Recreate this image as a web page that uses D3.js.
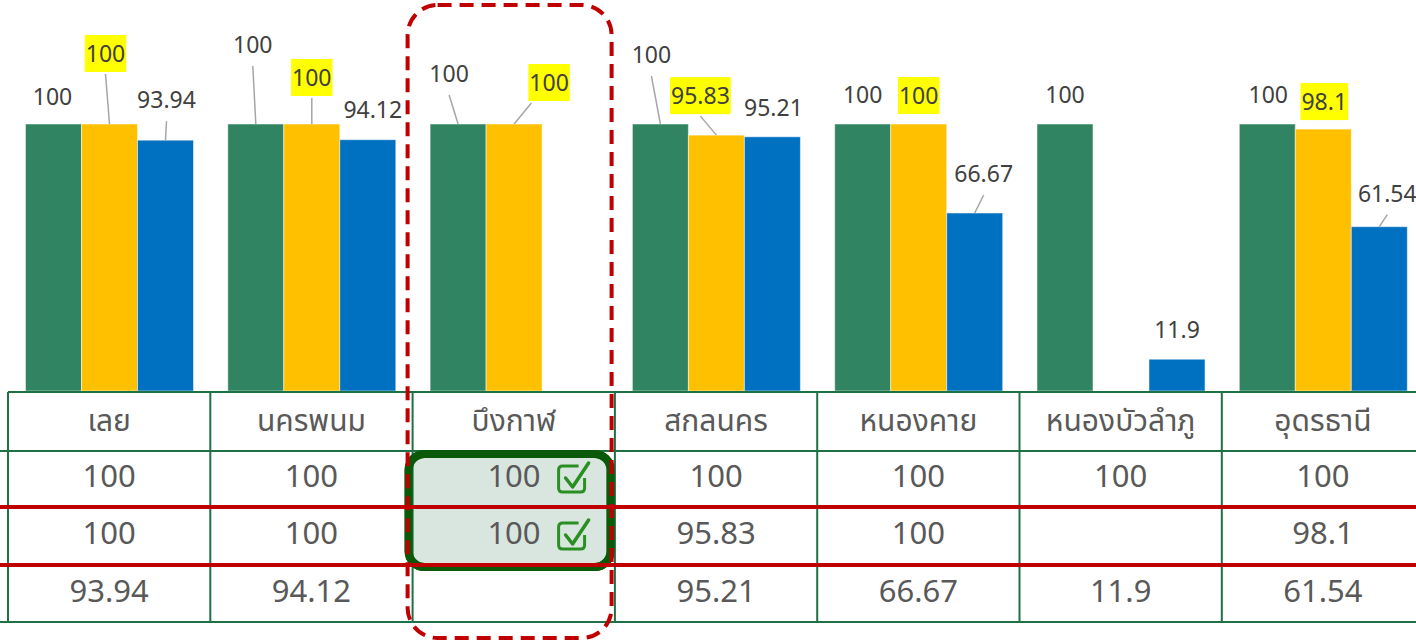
<!DOCTYPE html>
<html>
<head>
<meta charset="utf-8">
<script src="https://cdn.jsdelivr.net/npm/d3@7"></script>
<style>
  html, body { margin: 0; padding: 0; background: #fff; }
  svg { display: block; font-family: "Noto Sans Thai", "Noto Sans", sans-serif; }
</style>
</head>
<body>
<svg id="chart"></svg>
<script>
const categories = ["เลย", "นครพนม", "บึงกาฬ", "สกลนคร", "หนองคาย", "หนองบัวลำภู", "อุดรธานี"];
const seriesKeys = ["a", "b", "c"];
const valuesA = [100, 100, 100, 100, 100, 100, 100];
const valuesB = [100, 100, 100, 95.83, 100, null, 98.1];
const valuesC = [93.94, 94.12, null, 95.21, 66.67, 11.9, 61.54];
const tableLabels = ["100", "100", "100", "95.83", "100", "", "98.1"];
const checkedCategory = "บึงกาฬ";

// hand placed data labels, offset from bar top centre (like the original)
const labelOffA = [[-1, -19], [-3, -71], [-9, -42], [-9, -61], [0, -21], [0, -21], [1, -21]];
const labelOffB = [[-4, -62], [0, -38], [35, -33], [-16, -31], [0, -20], null, [1, -19]];
const labelOffC = [[1, -32], [5, -22], null, [1, -21], [9, -31], [0, -21], [8, -25]];

const W = 1416, H = 642;
const colors = {a: "#318461", b: "#FFC000", c: "#0070C0"};
const gridGreen = "#1E7145";
const red = "#C00000";
const textGrey = "#595959";

const svg = d3.select("#chart").attr("width", W).attr("height", H);

const x0 = d3.scaleBand().domain(categories).range([8, 8 + 202.3 * categories.length]);
const x1 = d3.scaleBand().domain(seriesKeys).range([17.5, 185.5]);
const y = d3.scaleLinear().domain([0, 100]).range([391, 124]);

const rows = categories.map((c, i) => ({
  cat: c,
  a: valuesA[i], b: valuesB[i], c: valuesC[i],
  off: {a: labelOffA[i], b: labelOffB[i], c: labelOffC[i]}
}));

// bars
const groups = svg.append("g").selectAll("g")
  .data(rows).join("g")
  .attr("transform", d => `translate(${x0(d.cat)},0)`);

groups.selectAll("rect")
  .data(d => seriesKeys.filter(k => d[k] != null).map(k => ({key: k, value: d[k]})))
  .join("rect")
  .attr("x", d => x1(d.key))
  .attr("width", x1.bandwidth())
  .attr("y", d => y(d.value))
  .attr("height", d => y(0) - y(d.value))
  .attr("fill", d => colors[d.key])
  .attr("stroke", "#fff")
  .attr("stroke-opacity", 0.5)
  .attr("stroke-width", 1);

// data labels + leader lines
const labelLayer = svg.append("g").attr("font-size", 23).attr("fill", "#404040");
rows.forEach(d => {
  seriesKeys.forEach(k => {
    if (d[k] == null || !d.off[k]) return;
    const bx = x0(d.cat) + x1(k) + x1.bandwidth() / 2;
    const by = y(d[k]);
    const lx = bx + d.off[k][0];
    const ly = by + d.off[k][1];
    const g = labelLayer.append("g");
    const t = g.append("text")
      .attr("x", lx).attr("y", ly)
      .attr("text-anchor", "middle")
      .text(d[k]);
    const bb = t.node().getBBox();
    if (k === "b") {
      g.insert("rect", "text")
        .attr("x", bb.x - 1).attr("y", ly - 27)
        .attr("width", bb.width + 2).attr("height", 37)
        .attr("fill", "#FFFF00");
    }
    if (d.off[k][1] < -23) {
      let sx = Math.max(bb.x + 2, Math.min(bb.x + bb.width - 2, lx));
      if (bx < bb.x) sx = bb.x + 2;
      labelLayer.append("line")
        .attr("x1", sx).attr("y1", ly + (k === "b" ? 12 : 13))
        .attr("x2", bx).attr("y2", by)
        .attr("stroke", "#A6A6A6").attr("stroke-width", 1.5);
    }
  });
});

// data table
const rowY = [392, 451, 507, 565, 622];
const table = svg.append("g");

// highlight box for the checked column
const hx = x0(checkedCategory);
table.append("rect")
  .attr("x", hx - 4).attr("y", 454)
  .attr("width", 202).attr("height", 113)
  .attr("rx", 16)
  .attr("fill", "#D9E6DF")
  .attr("stroke", "#0A5A0A")
  .attr("stroke-width", 8);

table.selectAll("line.v")
  .data(d3.range(categories.length + 1))
  .join("line")
  .attr("x1", i => 8 + i * x0.step()).attr("x2", i => 8 + i * x0.step())
  .attr("y1", rowY[0]).attr("y2", rowY[4])
  .attr("stroke", gridGreen).attr("stroke-width", 2);

[[rowY[0], 8], [rowY[1], 0], [rowY[4], 0]].forEach(([yy, x]) => {
  table.append("line")
    .attr("x1", x).attr("x2", W).attr("y1", yy).attr("y2", yy)
    .attr("stroke", gridGreen).attr("stroke-width", 2);
});

// redraw highlight stroke above the grid lines
table.append("rect")
  .attr("x", hx - 4).attr("y", 454)
  .attr("width", 202).attr("height", 113)
  .attr("rx", 16)
  .attr("fill", "none")
  .attr("stroke", "#0A5A0A")
  .attr("stroke-width", 8);

[rowY[2], rowY[3]].forEach(yy => {
  table.append("line")
    .attr("x1", 0).attr("x2", W).attr("y1", yy).attr("y2", yy)
    .attr("stroke", red).attr("stroke-width", 4);
});

const cellText = table.append("g").attr("fill", textGrey).attr("font-size", 31);
cellText.selectAll("text.h")
  .data(categories).join("text")
  .attr("x", c => x0(c) + x0.bandwidth() / 2)
  .attr("y", 431)
  .attr("text-anchor", "middle")
  .attr("font-size", 30)
  .text(c => c);

const tableRows = [
  valuesA.map(String),
  tableLabels,
  valuesC.map(v => v == null ? "" : String(v))
];
tableRows.forEach((vals, r) => {
  const cy = (rowY[r + 1] + rowY[r + 2]) / 2 + 8;
  vals.forEach((v, i) => {
    const c = categories[i];
    const checked = c === checkedCategory && v !== "";
    cellText.append("text")
      .attr("x", checked ? x0(c) + 128 : x0(c) + x0.bandwidth() / 2)
      .attr("y", cy)
      .attr("text-anchor", checked ? "end" : "middle")
      .text(v);
    if (checked) {
      const ix = x0(c) + 146, iy = cy - 21;
      const icon = table.append("g").attr("fill", "none")
        .attr("stroke", "#2A8F22").attr("stroke-width", 3);
      icon.append("path")
        .attr("d", `M${ix + 20},${iy} H${ix + 4} Q${ix},${iy} ${ix},${iy + 4} V${iy + 22} Q${ix},${iy + 26} ${ix + 4},${iy + 26} H${ix + 22} Q${ix + 26},${iy + 26} ${ix + 26},${iy + 22} V${iy + 12}`);
      icon.append("path")
        .attr("stroke-width", 3.5)
        .attr("stroke-linecap", "round").attr("stroke-linejoin", "round")
        .attr("d", `M${ix + 7},${iy + 12} L${ix + 14},${iy + 21} L${ix + 30},${iy - 3}`);
    }
  });
});

// dashed outline around the checked column
svg.append("rect")
  .attr("x", hx - 5).attr("y", 5)
  .attr("width", 204).attr("height", 633)
  .attr("rx", 30)
  .attr("fill", "none")
  .attr("stroke", red)
  .attr("stroke-width", 4)
  .attr("stroke-dasharray", "14 8");
</script>
</body>
</html>
